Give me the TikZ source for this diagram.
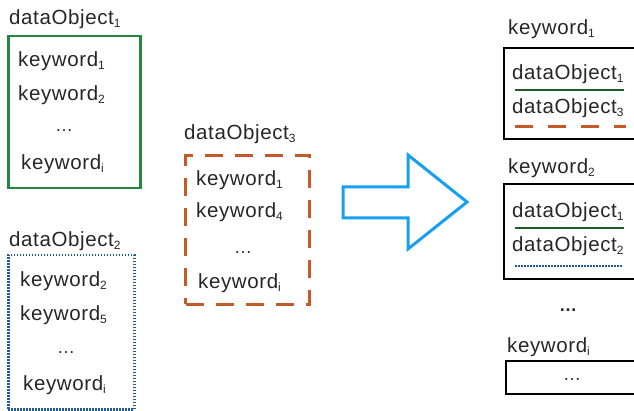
\documentclass[tikz,border=0pt]{standalone}
\usepackage{fontspec}
\setmainfont[LetterSpace=3]{Liberation Sans}
\definecolor{txt}{HTML}{262626}
\definecolor{gbox}{HTML}{22893E}
\definecolor{gline}{HTML}{1E5E2A}
\definecolor{obox}{HTML}{C45A28}
\definecolor{bbox}{HTML}{22599A}
\definecolor{arr}{HTML}{18A0F0}
\newcommand\ssub[1]{\raisebox{-0.3ex}{\fontsize{12}{12}\selectfont #1}}
\tikzset{
  lbl/.style={anchor=west,inner sep=0pt,text=txt,font=\fontsize{20.5}{20.5}\selectfont},
  dots/.style={inner sep=0pt,text=txt,font=\fontsize{18}{18}\selectfont},
  boxg/.style={draw=gbox,line width=2.5pt},
  boxo/.style={draw=obox,line width=3pt,dash pattern=on 18pt off 12pt},
  boxb/.style={draw=bbox,line width=2.5pt,dash pattern=on 1.5pt off 1.5pt},
  boxk/.style={draw=black,line width=2pt},
  lineg/.style={draw=gline,line width=2.5pt},
  lineo/.style={draw=obox,line width=3pt,dash pattern=on 18pt off 15pt},
  lineb/.style={draw=bbox,line width=2.5pt,dash pattern=on 1.5pt off 1.5pt},
}
\begin{document}
\begin{tikzpicture}[x=1pt,y=-1pt]
\useasboundingbox (0,0) rectangle (634,411);
% dataObject1
\node[lbl] (d1) at (9,19) {dataObject\ssub{1}};
\node[boxg,minimum width=132pt,minimum height=152pt,anchor=north west,inner sep=0pt] (b1) at (7,35) {};
\node[lbl] (b1k1) at (18,61) {keyword\ssub{1}};
\node[lbl] (b1k2) at (18,95) {keyword\ssub{2}};
\node[dots] (b1d) at (64,131) {\dots};
\node[lbl] (b1ki) at (21,164) {keyword\ssub{i}};
% dataObject2
\node[lbl] (d2) at (9,241) {dataObject\ssub{2}};
\node[boxb,minimum width=126pt,minimum height=154pt,anchor=north west,inner sep=0pt] (b2) at (7,254) {};
\node[lbl] (b2k1) at (20,281) {keyword\ssub{2}};
\node[lbl] (b2k2) at (20,315) {keyword\ssub{5}};
\node[dots] (b2d) at (66,353) {\dots};
\node[lbl] (b2ki) at (23,385) {keyword\ssub{i}};
% dataObject3
\node[lbl] (d3) at (184,134) {dataObject\ssub{3}};
\node[boxo,minimum width=124pt,minimum height=149pt,anchor=north west,inner sep=0pt] (b3) at (184,154) {};
\node[lbl] (b3k1) at (196,180) {keyword\ssub{1}};
\node[lbl] (b3k2) at (196,212) {keyword\ssub{4}};
\node[dots] (b3d) at (243,253) {\dots};
\node[lbl] (b3ki) at (198,283) {keyword\ssub{i}};
% arrow
\draw[draw=arr,line width=3pt,line join=miter] (343,187) -- (408,187) -- (408,155) -- (467,202) -- (408,249) -- (408,218) -- (343,218) -- cycle;
% right: keyword1
\node[lbl] (r1) at (508,29) {keyword\ssub{1}};
\node[boxk,minimum width=150pt,minimum height=91pt,anchor=north west,inner sep=0pt] (rb1) at (503,47) {};
\node[lbl] (r1a) at (512,74) {dataObject\ssub{1}};
\node[lbl] (r1b) at (512,108) {dataObject\ssub{3}};
\coordinate (r1g1) at (515,90); \coordinate (r1g2) at (624,90);
\coordinate (r1o1) at (515,127); \coordinate (r1o2) at (626,127);
\draw[lineg] (r1g1) -- (r1g2);
\draw[lineo] (r1o1) -- (r1o2);
% right: keyword2
\node[lbl] (r2) at (508,168) {keyword\ssub{2}};
\node[boxk,minimum width=150pt,minimum height=95pt,anchor=north west,inner sep=0pt] (rb2) at (503,183) {};
\node[lbl] (r2a) at (512,212) {dataObject\ssub{1}};
\node[lbl] (r2b) at (512,246) {dataObject\ssub{2}};
\coordinate (r2g1) at (515,228); \coordinate (r2g2) at (624,228);
\coordinate (r2b1) at (515,266); \coordinate (r2b2) at (622,266);
\draw[lineg] (r2g1) -- (r2g2);
\draw[lineb] (r2b1) -- (r2b2);
% dots
\node[dots,font=\bfseries\fontsize{18}{18}\selectfont] (rdots) at (568,310) {\dots};
% keyword i
\node[lbl] (r3) at (507,347) {keyword\ssub{i}};
\node[boxk,minimum width=150pt,minimum height=33pt,anchor=north west,inner sep=0pt] (rb3) at (505,360) {};
\node[dots] (r3d) at (572,380) {\dots};
\end{tikzpicture}
\end{document}
